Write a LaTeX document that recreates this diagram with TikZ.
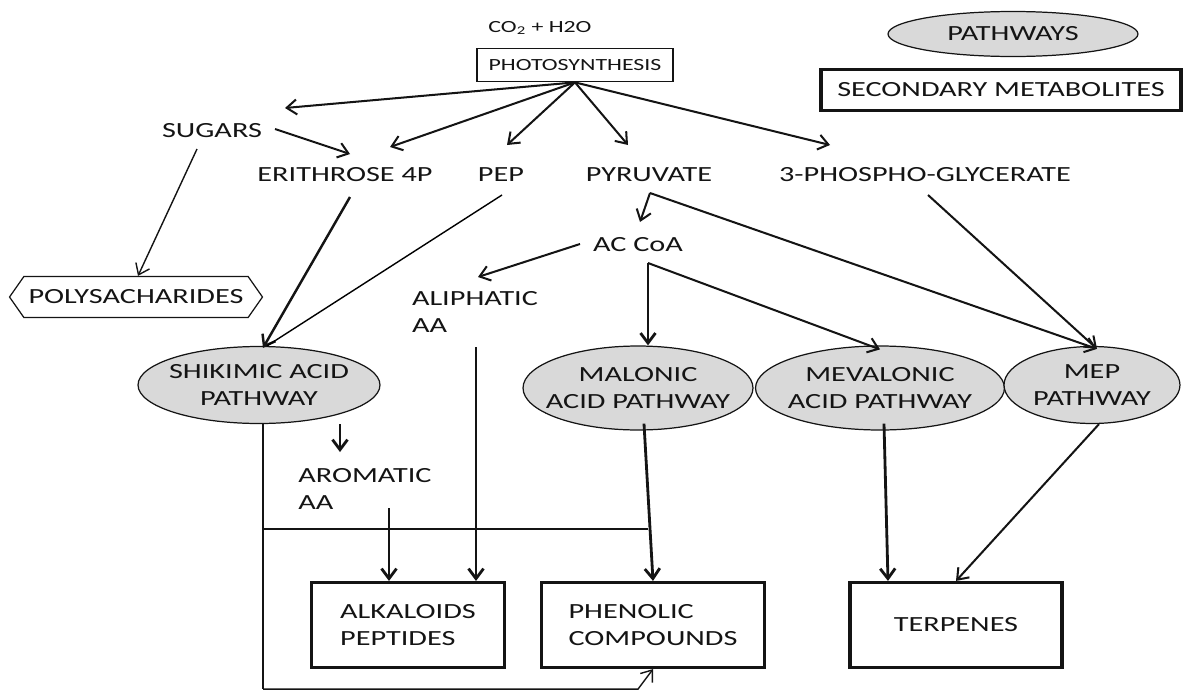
\documentclass[tikz,border=0pt]{standalone}
\usepackage{fontspec}
\setmainfont{Carlito}[FakeStretch=1.4]
\usepackage{xcolor}
\usetikzlibrary{positioning,arrows.meta,calc,shapes.geometric,shapes.symbols}
\definecolor{ink}{HTML}{141414}
\definecolor{pwfill}{HTML}{D9D9D9}
\newcommand{\lblfont}{\fontsize{12.3}{15.5}\selectfont}
\newcommand{\smallfont}{\fontsize{9.7}{12}\selectfont}
\tikzset{
  lbl/.style={font=\lblfont, text=ink, inner sep=0pt, align=left},
  pathway/.style={lbl, ellipse, draw=ink, fill=pwfill, line width=0.7pt,
    inner xsep=-1cm, inner ysep=-0.3cm, align=center},
  metab/.style={lbl, draw=ink, line width=1.8pt, minimum height=1.7cm},
  arr/.style={-{Straight Barb[length=2mm,width=3mm]}, line width=1.15pt, draw=ink},
  heavy/.style={line width=1.6pt},
  fine/.style={line width=0.8pt}
}

\begin{document}
\begin{tikzpicture}[x=0.02cm,y=-0.02cm]
\useasboundingbox (0,0) rectangle (1184,690);
% legend
\node[lbl,pathway,minimum width=5cm,minimum height=0.9cm] (legpw) at (1013,34) {PATHWAYS};
\node[lbl,draw=ink,line width=1.8pt,minimum width=7.2cm,minimum height=0.82cm] (legsm) at (1001,90) {SECONDARY METABOLITES};
% source
\node[lbl,font=\smallfont] (co2) at (540,28) {CO\textsubscript{2} + H2O};
\node[lbl,font=\smallfont,draw=ink,line width=1pt,minimum width=3.92cm,minimum height=0.66cm] (photo) at (575,65) {PHOTOSYNTHESIS};
% primary metabolites
\node[lbl] (sugars) at (212,131) {SUGARS};
\node[lbl] (ery) at (345,175) {ERITHROSE 4P};
\node[lbl] (pep) at (501,175) {PEP};
\node[lbl] (pyr) at (649,175) {PYRUVATE};
\node[lbl] (pga) at (925,175) {3-PHOSPHO-GLYCERATE};
\node[lbl] (acoa) at (638,245) {AC CoA};
\node[lbl] (aliph) at (475,312) {ALIPHATIC\\AA};
\node[lbl,draw=ink,line width=0.7pt,signal,signal to=west and east,signal pointer angle=110,
  minimum width=5.06cm,minimum height=0.82cm] (poly) at (136,297) {POLYSACHARIDES};
% pathways
\node[pathway,minimum width=4.84cm,minimum height=1.54cm] (shik) at (259,385) {SHIKIMIC ACID\\PATHWAY};
\node[pathway,minimum width=4.6cm,minimum height=1.68cm] (malo) at (638,388) {MALONIC\\ACID PATHWAY};
\node[pathway,minimum width=4.98cm,minimum height=1.68cm] (meva) at (880,388) {MEVALONIC\\ACID PATHWAY};
\node[pathway,minimum width=3.52cm,minimum height=1.54cm] (mep) at (1092,385) {MEP\\PATHWAY};
\node[lbl] (arom) at (365,489) {AROMATIC\\AA};
% secondary metabolites
\node[metab,minimum width=3.86cm] (alk) at (408,625) {ALKALOIDS\\PEPTIDES};
\node[metab,minimum width=4.46cm] (phen) at (653,625) {PHENOLIC\\COMPOUNDS};
\node[metab,minimum width=4.24cm] (terp) at (956,625) {TERPENES};
% from photosynthesis
\draw[arr] (photo.south) -- ($(sugars)+(73,-23)$);
\draw[arr] (photo.south) -- ($(ery)+(45,-28)$);
\draw[arr] (photo.south) -- ($(pep)+(6,-30)$);
\draw[arr] (photo.south) -- ($(pyr)+(-21,-30)$);
\draw[arr] (photo.south) -- ($(pga)+(-95,-30)$);
% sugars
\draw[arr] ($(sugars)+(63,-2)$) -- ($(ery)+(5,-21)$);
\draw[arr,fine] ($(sugars)+(-15,18)$) -- ($(poly.north)+(2,0)$);
% into shikimic acid pathway
\draw[arr,line width=1.4pt] ($(ery)+(5,22)$) -- ($(shik.north)+(4,2)$);
\draw[fine] ($(pep)+(1,20)$) -- ($(shik.north)+(8,0)$);
% pyruvate and 3-PG
\coordinate (pyrc) at ($(pyr)+(1,18)$);
\draw[arr] (pyrc) -- ($(acoa)+(2,-23)$);
\draw[arr] (pyrc) -- ($(mep.north)+(5,3)$);
\draw[arr] ($(pga)+(3,20)$) -- ($(mep.north)+(5,3)$);
% acetyl CoA
\draw[arr] ($(acoa)+(-58,-1)$) -- ($(aliph)+(3,-35)$);
\coordinate (acoac) at ($(acoa)+(10,18)$);
\draw[arr,heavy] (acoac) -- (acoac |- malo.north);
\draw[arr] (acoac) -- ($(meva.north)+(0,4)$);
% amino acids
\draw[arr,heavy] ($(shik.south)+(81,0)$) -- ($(arom)+(-25,-37)$);
\draw[arr,heavy] ($(arom)+(24,19)$) coordinate (arb) -- (arb |- alk.north);
\draw[arr,heavy] ($(aliph)+(1,35)$) coordinate (alb) -- (alb |- alk.north);
% pathways to products
\draw[arr,heavy] ($(malo.south)+(6,-7)$) -- (phen.north);
\draw[arr,heavy] ($(meva.south)+(4,-7)$) -- ($(terp.north)+(-68,0)$);
\draw[arr] ($(mep.south)+(7,0)$) -- (terp.north);
% shikimic bypass lines
\coordinate (shb) at ($(shik.south)+(4,0)$);
\coordinate (bot) at ($(phen.south)+(-15,20)$);
\coordinate (mj) at ($(phen.north)+(-5,-52)$);
\draw[heavy,draw=ink] (shb) -- (shb |- bot);
\draw[fine,draw=ink] (shb |- mj) -- (mj);
\draw[arr,fine] (shb |- bot) -- (bot) -- (phen.south);
\end{tikzpicture}
\end{document}
